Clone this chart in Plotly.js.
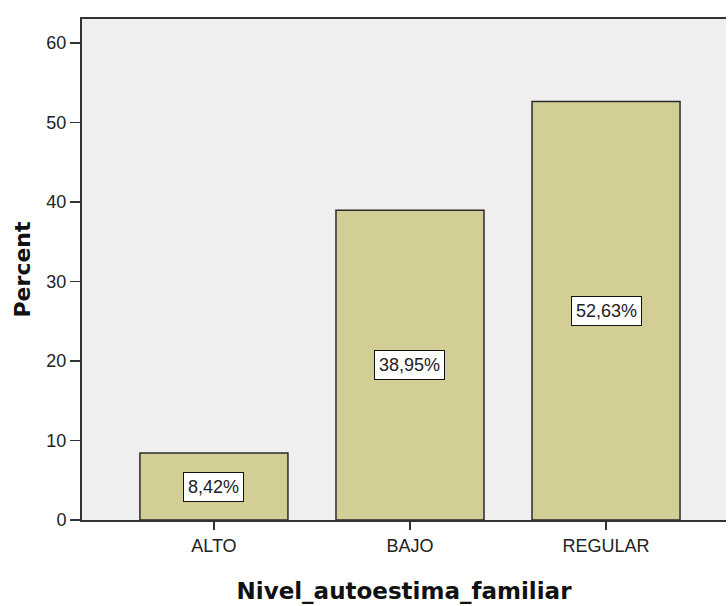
<!DOCTYPE html>
<html>
<head>
<meta charset="utf-8">
<script src="https://cdn.plot.ly/plotly-3.0.1.min.js"></script>
<style>html,body{margin:0;padding:0;background:#fff;}#chart{width:728px;height:606px;}</style>
</head>
<body>
<div id="chart"></div>
<script>
var categories = ["ALTO", "BAJO", "REGULAR"];
var percents = [8.42, 38.95, 52.63];
var labels = ["8,42%", "38,95%", "52,63%"];
var yTicks = [0, 10, 20, 30, 40, 50, 60];

var trace = {
  type: "bar",
  x: categories,
  y: percents,
  width: 0.755,
  marker: {color: "#D3CD96", line: {color: "#2b2b2b", width: 1.5}},
  hoverinfo: "skip"
};

var annotations = categories.map(function (c, i) {
  return {
    x: c, y: percents[i] / 2, xref: "x", yref: "y",
    text: labels[i], showarrow: false,
    bgcolor: "#ffffff", bordercolor: "#111111", borderwidth: 1, borderpad: 4,
    font: {family: "Liberation Sans, Arial, sans-serif", size: 18, color: "#222"}
  };
});

var layout = {
  width: 728, height: 606,
  margin: {l: 82, r: 2, t: 19, b: 86},
  paper_bgcolor: "#ffffff",
  plot_bgcolor: "#EFEFEF",
  showlegend: false,
  bargap: 0.245,
  xaxis: {
    type: "category",
    range: [-0.673, 2.612],
    showline: true, linecolor: "#333", linewidth: 2, mirror: true,
    ticks: "outside", ticklen: 8, tickcolor: "#333", tickwidth: 1.5,
    showgrid: false, zeroline: false,
    tickfont: {family: "Liberation Sans, Arial, sans-serif", size: 18, color: "#222"},
    title: {text: "Nivel_autoestima_familiar", standoff: 28,
      font: {family: "DejaVu Sans, sans-serif", size: 23, color: "#111", weight: "bold"}}
  },
  yaxis: {
    range: [0, 63],
    tickvals: yTicks,
    showline: true, linecolor: "#333", linewidth: 2,
    ticks: "outside", ticklen: 10, tickcolor: "#333", tickwidth: 1.5,
    showgrid: false, zeroline: false,
    tickfont: {family: "Liberation Sans, Arial, sans-serif", size: 18, color: "#222"},
    title: {text: "Percent", standoff: 10,
      font: {family: "DejaVu Sans, sans-serif", size: 22, color: "#111", weight: "bold"}}
  },
  annotations: annotations
};

Plotly.newPlot("chart", [trace], layout, {displayModeBar: false, staticPlot: true});
</script>
</body>
</html>
